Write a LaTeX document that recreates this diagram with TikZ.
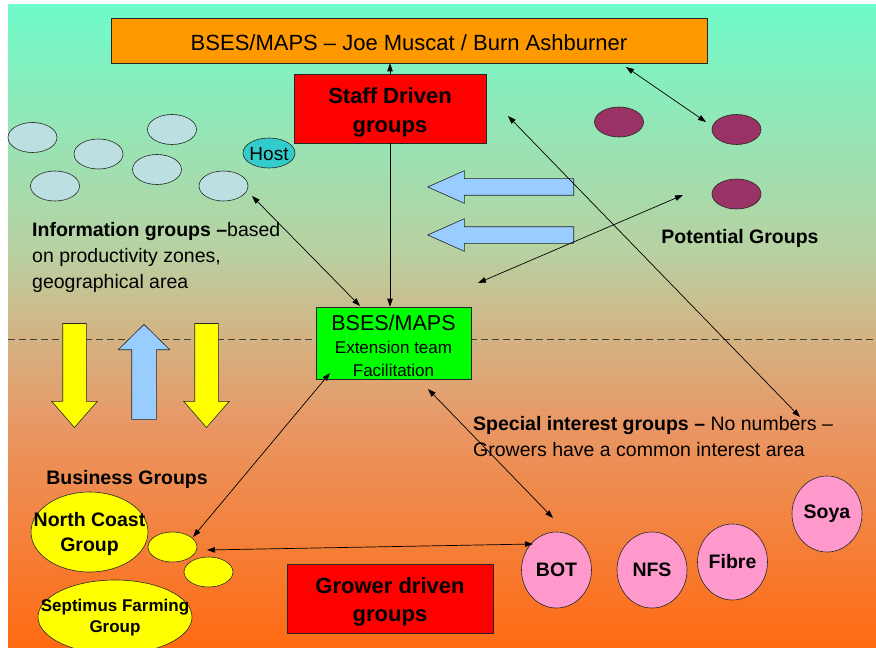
\documentclass[tikz,border=0pt]{standalone}
\usepackage{fontspec}
\setmainfont{Liberation Sans}
\usetikzlibrary{positioning}
\usetikzlibrary{shapes}
\usetikzlibrary{arrows.meta}

\definecolor{titleOrange}{HTML}{FF9900}
\definecolor{boxRed}{HTML}{FF0000}
\definecolor{boxGreen}{HTML}{00FF00}
\definecolor{infoBlue}{HTML}{BCDFE1}
\definecolor{hostTeal}{HTML}{33CCCC}
\definecolor{potPurple}{HTML}{993366}
\definecolor{interestPink}{HTML}{FF99CC}
\definecolor{flowBlue}{HTML}{99CCFF}
\definecolor{flowYellow}{HTML}{FFFF00}
\definecolor{bgTop}{HTML}{70FBCA}
\definecolor{bgUpper}{HTML}{B8D1A2}
\definecolor{bgMid}{HTML}{D5B282}
\definecolor{bgLower}{HTML}{E89866}
\definecolor{bgBottom}{HTML}{FF6A12}
\pgfdeclareverticalshading{slideBg}{100bp}{color(0bp)=(bgBottom); color(25bp)=(bgBottom); color(42.7bp)=(bgLower); color(48.95bp)=(bgMid); color(55.95bp)=(bgUpper); color(75bp)=(bgTop); color(100bp)=(bgTop)}

\begin{document}
\begin{tikzpicture}[x=1pt, y=-1pt,
    >={Triangle[length=8pt,width=5.5pt]},
    outline/.style={draw=black!85, line width=0.6pt},
    boxNode/.style={rectangle, outline, inner sep=0pt},
    blob/.style={ellipse, outline, inner sep=0pt, minimum width=49pt, minimum height=30pt},
    circleBlob/.style={ellipse, outline, fill=interestPink, inner sep=0pt, minimum width=70pt, minimum height=76pt, font=\fontsize{19.5}{22}\selectfont\bfseries},
    bigArrow/.style={single arrow, outline, single arrow head indent=0pt, anchor=tip},
    linkLine/.style={<->, line width=0.7pt},
    bodyText/.style={inner sep=0pt, font=\fontsize{19.5}{26}\selectfont}]

	\useasboundingbox (0,0) rectangle (876,650);
	\fill[white] (0,0) rectangle (876,650);
	\shade[shading=slideBg] (8,5) rectangle (876,648);
	\draw[black!75, line width=0.6pt, dash pattern=on 7pt off 4pt] (8,339) -- (876,339);

	% block arrows
	\node[bigArrow, fill=flowBlue, shape border rotate=180, inner sep=8pt, minimum height=146pt, single arrow head extend=8pt, single arrow tip angle=48](pullArrowA) at (427,187){};
	\node[bigArrow, fill=flowBlue, shape border rotate=180, inner sep=8pt, minimum height=146pt, single arrow head extend=8pt, single arrow tip angle=48](pullArrowB) at (427,235){};
	\node[bigArrow, fill=flowYellow, shape border rotate=270, inner sep=11.5pt, minimum height=104pt, single arrow head extend=11pt, single arrow tip angle=82](downArrowA) at (74.5,428){};
	\node[bigArrow, fill=flowBlue, shape border rotate=90, inner sep=12pt, minimum height=95pt, single arrow head extend=13.5pt, single arrow tip angle=91](upArrow) at (144,324){};
	\node[bigArrow, fill=flowYellow, shape border rotate=270, inner sep=11.5pt, minimum height=104pt, single arrow head extend=11pt, single arrow tip angle=82](downArrowB) at (206.5,428){};

	% boxes
	\node[boxNode, fill=titleOrange, minimum width=596pt, minimum height=45pt, label={[font=\fontsize{22}{26}\selectfont, yshift=-2pt]center:BSES/MAPS – Joe Muscat / Burn Ashburner}](titleBox) at (409,40.5){};
	\node[boxNode, fill=boxRed, minimum width=192pt, minimum height=69pt, label={[align=center, font=\fontsize{22}{29}\selectfont\bfseries, yshift=-4pt]center:Staff Driven\\groups}](staffBox) at (390,108.5){};
	\node[boxNode, fill=boxGreen, minimum width=155pt, minimum height=72pt, label={[align=center, font=\fontsize{17}{23}\selectfont, yshift=-3pt]center:{\fontsize{21.5}{23}\selectfont BSES/MAPS}\\Extension team\\Facilitation}](extBox) at (393.5,343){};
	\node[boxNode, fill=boxRed, minimum width=206pt, minimum height=69pt, label={[align=center, font=\fontsize{22}{28}\selectfont\bfseries, yshift=-3pt]center:Grower driven\\groups}](growerBox) at (390,598.5){};

	% information groups
	\node[blob, fill=infoBlue](infoBlob1) at (32.5,137.5){};
	\node[blob, fill=infoBlue](infoBlob2) at (98.5,154){};
	\node[blob, fill=infoBlue](infoBlob3) at (172,129.5){};
	\node[blob, fill=infoBlue](infoBlob4) at (55,186){};
	\node[blob, fill=infoBlue](infoBlob5) at (157,169.5){};
	\node[blob, fill=infoBlue](infoBlob6) at (223.5,186){};
	\node[blob, fill=hostTeal, minimum width=52pt, label={[font=\fontsize{19}{22}\selectfont, yshift=-1pt]center:Host}](hostBlob) at (269,153){};
	\node[bodyText, align=left, anchor=north west](infoLabel) at (32,222.5){\textbf{Information groups –}based\\on productivity zones,\\geographical area};

	% potential groups
	\node[blob, fill=potPurple](potBlob1) at (619,122){};
	\node[blob, fill=potPurple](potBlob2) at (736.5,129.5){};
	\node[blob, fill=potPurple](potBlob3) at (736.5,194){};
	\node[bodyText, font=\fontsize{19.5}{26}\selectfont\bfseries](potLabel) at (740,238){Potential Groups};

	% business groups
	\node[bodyText, font=\fontsize{19.5}{26}\selectfont\bfseries](busLabel) at (127,479){Business Groups};
	\node[blob, fill=flowYellow, minimum width=117pt, minimum height=80pt, label={[align=center, font=\fontsize{19.5}{25}\selectfont\bfseries, yshift=-2pt]center:North Coast\\Group}](northCoast) at (89.5,532){};
	\node[blob, fill=flowYellow](busBlob1) at (172.5,547){};
	\node[blob, fill=flowYellow](busBlob2) at (208.5,572){};
	\node[blob, fill=flowYellow, minimum width=154pt, minimum height=74pt, label={[align=center, font=\fontsize{17}{21}\selectfont\bfseries, yshift=-1pt]center:Septimus Farming\\Group}](septimus) at (115,617){};
	\fill[white] (0,648) rectangle (876,650);

	% special interest groups
	\node[bodyText, align=left, anchor=north west](specialLabel) at (473,416){\textbf{Special interest groups –} No numbers –\\Growers have a common interest area};
	\node[circleBlob](botBlob) at (556.5,570){BOT};
	\node[circleBlob](nfsBlob) at (652,570){NFS};
	\node[circleBlob](fibreBlob) at (732.5,562){Fibre};
	\node[circleBlob](soyaBlob) at (827,514){Soya};

	% link ends
	\coordinate (titleLink) at (626,67);
	\coordinate (potLinkTop) at (706,122);
	\coordinate (staffLink) at (508,116);
	\coordinate (specialLink) at (800,417);
	\coordinate (potLinkMid) at (683,195);
	\coordinate (potLinkLow) at (478,283);
	\coordinate (infoLink) at (252,196);
	\coordinate (extLinkTop) at (360,306);
	\coordinate (extLinkLeft) at (330,373);
	\coordinate (busLink) at (193,537);
	\coordinate (extLinkRight) at (428,389);
	\coordinate (botLinkTop) at (553,518);
	\coordinate (busLinkSide) at (207,550);
	\coordinate (botLinkSide) at (533,544);

	% connectors
	\draw[->, line width=0.7pt] (staffBox.north) -- (staffBox.north |- titleBox.south);
	\draw[->, line width=0.7pt] (staffBox.south) -- (staffBox.south |- extBox.north);
	\draw[linkLine] (titleLink) -- (potLinkTop);
	\draw[linkLine] (staffLink) -- (specialLink);
	\draw[linkLine] (potLinkLow) -- (potLinkMid);
	\draw[linkLine] (infoLink) -- (extLinkTop);
	\draw[linkLine] (busLink) -- (extLinkLeft);
	\draw[linkLine] (extLinkRight) -- (botLinkTop);
	\draw[linkLine] (busLinkSide) -- (botLinkSide);
\end{tikzpicture}
\end{document}
